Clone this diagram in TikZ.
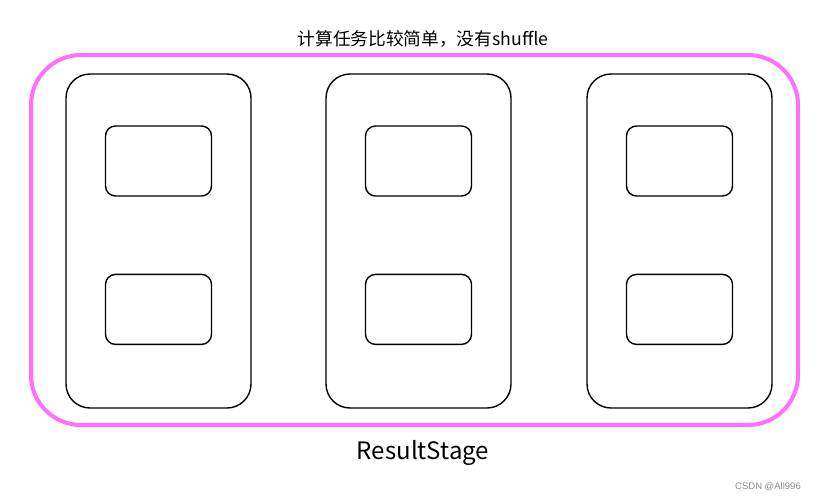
\documentclass[tikz,border=0pt]{standalone}
\usepackage{fontspec}
\setmainfont{Noto Sans CJK SC}
\newfontfamily\markfont{Liberation Sans}
\usetikzlibrary{positioning}
\definecolor{stagePink}{HTML}{FF6EFF}
\definecolor{markGray}{HTML}{8C8C8C}

\begin{document}
\begin{tikzpicture}[
          x=1pt, y=-1pt,
          node distance=73.6pt,
          stagebox/.style={rectangle, draw=stagePink, line width=4pt,
                           rounded corners=50pt, minimum width=767pt, minimum height=370pt},
          taskbox/.style={rectangle, draw, line width=1.4pt, rounded corners=24pt,
                          minimum width=185pt, minimum height=334pt},
          unitbox/.style={rectangle, draw, line width=1.4pt, rounded corners=10pt,
                          minimum width=106pt, minimum height=70pt}
        ]
        \useasboundingbox (0,0) rectangle (828,501);
        \node[stagebox] (stage) at (414.5,240) {};
        \node[taskbox] (task1) at (158.5,241) {};
        \node[taskbox, right=of task1] (task2) {};
        \node[taskbox, right=74.6pt of task2] (task3) {};
        \node[unitbox, below=52pt of task1.north] (top1) {};
        \node[unitbox, below=52pt of task2.north] (top2) {};
        \node[unitbox, below=52pt of task3.north] (top3) {};
        \node[unitbox, below=77pt of top1] (bottom1) {};
        \node[unitbox, below=77pt of top2] (bottom2) {};
        \node[unitbox, below=77pt of top3] (bottom3) {};
        \node[font=\fontsize{17.7}{21}\selectfont] (title) at (423,39) {计算任务比较简单，没有shuffle};
        \node[font=\fontsize{24}{28}\selectfont] (name) at (423,453) {ResultStage};
        \node[font=\markfont\fontsize{9.5}{11}\selectfont, text=markGray] (mark) at (768,487) {CSDN @All996};
      \end{tikzpicture}
\end{document}
